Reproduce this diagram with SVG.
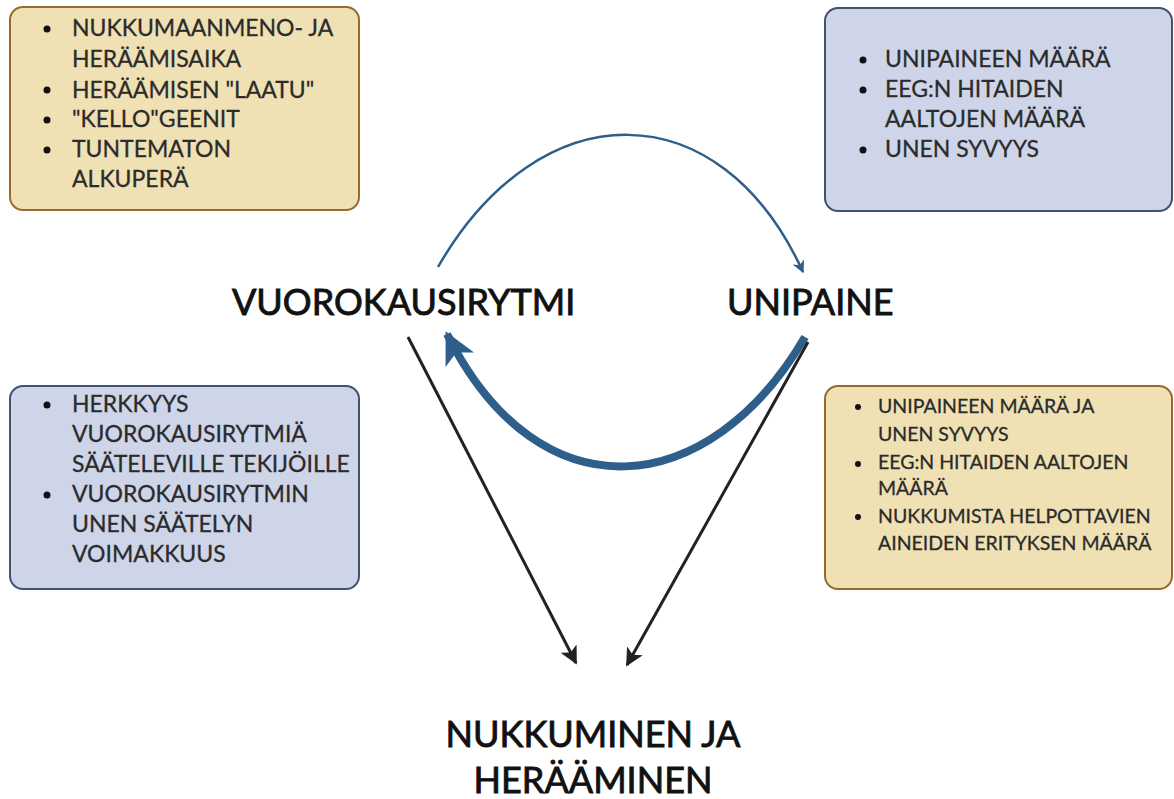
<svg xmlns="http://www.w3.org/2000/svg" width="1174" height="799" viewBox="0 0 1174 799">
<style>
.tan{fill:#F0E1B4;stroke:#9A6A2C;stroke-width:2}
.blue{fill:#CED5E8;stroke:#3E5274;stroke-width:2}
.bt{font-family:Lato,"Liberation Sans",sans-serif;font-size:23px;fill:#2b2b2b;stroke:#2b2b2b;stroke-width:0.3}
.bs{font-family:Lato,"Liberation Sans",sans-serif;font-size:19.5px;fill:#2b2b2b;stroke:#2b2b2b;stroke-width:0.3}
.main{font-family:Lato,"Liberation Sans",sans-serif;font-size:36px;fill:#111;stroke:#111;stroke-width:0.9}
.dot{fill:#111}
</style>
<defs>
<marker id="ab" viewBox="0 0 10 10" refX="9" refY="5" markerWidth="5" markerHeight="5" orient="auto" markerUnits="strokeWidth"><path d="M0,0 L10,5 L0,10 L3,5 Z" fill="#2E5F8A"/></marker>
<marker id="ak" viewBox="0 0 10 10" refX="9" refY="5" markerWidth="6" markerHeight="6" orient="auto" markerUnits="strokeWidth"><path d="M0,0 L10,5 L0,10 L2.5,5 Z" fill="#222"/></marker>
<marker id="abig" viewBox="0 0 10 10" refX="9" refY="5" markerWidth="4" markerHeight="4" orient="auto" markerUnits="strokeWidth"><path d="M0,0 L10,5 L0,10 L2.5,5 Z" fill="#2E5F8A"/></marker>
</defs>
<rect width="1174" height="799" fill="#fff"/>
<g id="connectors">
<path d="M438,267 C540,90 720,90 803,272" fill="none" stroke="#2E5F8A" stroke-width="2.5" marker-end="url(#ab)"/>
<path d="M805,337 C710,500 540,520 447,334" fill="none" stroke="#2E5F8A" stroke-width="8" marker-end="url(#abig)"/>
<path d="M408,337 L576,663" fill="none" stroke="#222" stroke-width="3" marker-end="url(#ak)"/>
<path d="M808,342 L627,665" fill="none" stroke="#222" stroke-width="3" marker-end="url(#ak)"/>
</g>
<g id="box-top-left">
<rect class="tan" x="10" y="7" width="349" height="203" rx="13"/>
<circle class="dot" cx="47" cy="29" r="3.5"/><circle class="dot" cx="47" cy="90" r="3.5"/><circle class="dot" cx="47" cy="120" r="3.5"/><circle class="dot" cx="47" cy="150" r="3.5"/>
<text class="bt"><tspan x="72" y="36">NUKKUMAANMENO- JA</tspan><tspan x="72" y="67">HERÄÄMISAIKA</tspan><tspan x="72" y="98">HERÄÄMISEN "LAATU"</tspan><tspan x="72" y="127">"KELLO"GEENIT</tspan><tspan x="72" y="157">TUNTEMATON</tspan><tspan x="72" y="187">ALKUPERÄ</tspan></text>
</g>
<g id="box-top-right">
<rect class="blue" x="825" y="8" width="347" height="203" rx="13"/>
<circle class="dot" cx="863" cy="60" r="3.5"/><circle class="dot" cx="863" cy="90" r="3.5"/><circle class="dot" cx="863" cy="150" r="3.5"/>
<text class="bt"><tspan x="885" y="67">UNIPAINEEN MÄÄRÄ</tspan><tspan x="885" y="97">EEG:N HITAIDEN</tspan><tspan x="885" y="127">AALTOJEN MÄÄRÄ</tspan><tspan x="885" y="157">UNEN SYVYYS</tspan></text>
</g>
<g id="box-bottom-left">
<rect class="blue" x="10" y="386" width="349" height="203" rx="13"/>
<circle class="dot" cx="47" cy="405" r="3.5"/><circle class="dot" cx="47" cy="495" r="3.5"/>
<text class="bt"><tspan x="72" y="412">HERKKYYS</tspan><tspan x="72" y="442">VUOROKAUSIRYTMIÄ</tspan><tspan x="72" y="472">SÄÄTELEVILLE TEKIJÖILLE</tspan><tspan x="72" y="502">VUOROKAUSIRYTMIN</tspan><tspan x="72" y="532">UNEN SÄÄTELYN</tspan><tspan x="72" y="562">VOIMAKKUUS</tspan></text>
</g>
<g id="box-bottom-right">
<rect class="tan" x="825" y="386" width="347" height="203" rx="13"/>
<circle class="dot" cx="858" cy="407" r="3"/><circle class="dot" cx="858" cy="464" r="3"/><circle class="dot" cx="858" cy="517" r="3"/>
<text class="bs"><tspan x="878" y="413">UNIPAINEEN MÄÄRÄ JA</tspan><tspan x="878" y="441">UNEN SYVYYS</tspan><tspan x="878" y="469">EEG:N HITAIDEN AALTOJEN</tspan><tspan x="878" y="495">MÄÄRÄ</tspan><tspan x="878" y="523">NUKKUMISTA HELPOTTAVIEN</tspan><tspan x="878" y="550">AINEIDEN ERITYKSEN MÄÄRÄ</tspan></text>
</g>
<g id="node-vuorokausirytmi"><text class="main" x="232" y="315">VUOROKAUSIRYTMI</text></g>
<g id="node-unipaine"><text class="main" x="727" y="315">UNIPAINE</text></g>
<g id="node-nukkuminen"><text class="main" x="593" y="747" text-anchor="middle">NUKKUMINEN JA</text><text class="main" x="593" y="793" text-anchor="middle">HERÄÄMINEN</text></g>
</svg>
